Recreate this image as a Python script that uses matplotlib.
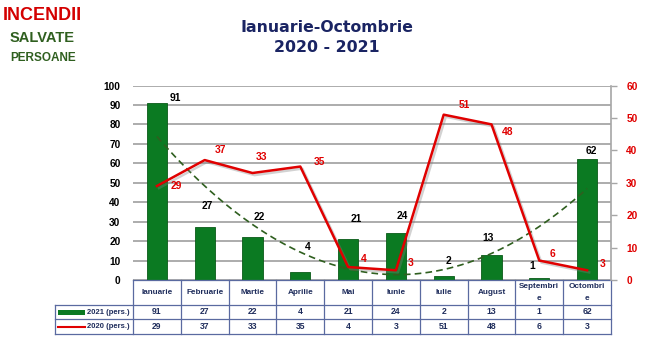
import numpy as np
import matplotlib
matplotlib.use("Agg")
import matplotlib.pyplot as plt
import matplotlib.patheffects as pe
from matplotlib.patches import Rectangle

plt.rcParams['font.family'] = ['Liberation Sans', 'DejaVu Sans']

months = ["Ianuarie", "Februarie", "Martie", "Aprilie", "Mai", "Iunie",
          "Iulie", "August", "Septembri\ne", "Octombri\ne"]
vals_2021 = [91, 27, 22, 4, 21, 24, 2, 13, 1, 62]
vals_2020 = [29, 37, 33, 35, 4, 3, 51, 48, 6, 3]
left_ticks = [0, 10, 20, 30, 40, 50, 60, 70, 80, 90, 100]
right_ticks = [0, 10, 20, 30, 40, 50, 60]
series_names = ["2021 (pers.)", "2020 (pers.)"]

# label offsets in pixels (style only)
bar_off = [(18, 5), (3, 21), (7, 20), (7, 25), (8, 20), (6, 17), (5, 15), (-3, 17), (-7, 12), (4, 8)]
line_off = [(19, 0), (16, 10), (9, 16), (19, 5), (16, 8), (15, 7), (21, 10), (16, -8), (13, 7), (16, 6)]

GREEN = '#0b7a22'
RED = '#e00000'
NAVY = '#1a2463'
TBL = '#5a6aa0'
TXT = '#1f2d5c'

fig = plt.figure(figsize=(6.54, 3.6), dpi=100)
ax = fig.add_axes([133/654, 80/360, 478/654, 194.5/360])
ax2 = ax.twinx()

x = np.arange(len(months))
ax.bar(x, vals_2021, width=0.42, color=GREEN, edgecolor='#0a5a18', linewidth=0.6, zorder=3)
ax.set_xlim(-0.5, len(months) - 0.5)
ax.set_ylim(0, 100)
ax.set_yticks(left_ticks)
ax.yaxis.grid(True, color='#a6a6a6', linewidth=1.3, zorder=0)
ax.set_axisbelow(True)
ax.set_xticks([])
for s in ax.spines.values():
    s.set_visible(False)
ax.tick_params(axis='y', length=0, pad=9, labelsize=7.3)
for lab in ax.get_yticklabels():
    lab.set_fontweight('bold')

# polynomial (order 2) trendline of 2021 series
coef = np.polyfit(x, vals_2021, 2)
xt = np.linspace(0, len(months) - 1, 200)
ax.plot(xt, np.polyval(coef, xt), color='#2f5f1f', linestyle=(0, (4, 2.5)), linewidth=1.2, zorder=4)

for i, v in enumerate(vals_2021):
    ax.annotate(str(v), (x[i], v), xytext=bar_off[i], textcoords='offset pixels',
                ha='center', va='center', fontsize=7.4, fontweight='bold', color='black', zorder=6)

# 2020 line on right axis
ax2.plot(x, vals_2020, color=RED, linewidth=1.8, zorder=5,
         path_effects=[pe.SimpleLineShadow(offset=(1.5, -1.5), shadow_color='gray', alpha=0.35), pe.Normal()])
ax2.set_ylim(0, 60)
ax2.set_yticks(right_ticks)
for s in ['top', 'left', 'bottom']:
    ax2.spines[s].set_visible(False)
ax2.spines['right'].set_color('#a6a6a6')
ax2.spines['right'].set_linewidth(1.2)
ax2.tick_params(axis='y', length=4, width=1, color='#a6a6a6', pad=7, labelsize=7.3, labelcolor=RED)
for lab in ax2.get_yticklabels():
    lab.set_fontweight('bold')
for i, v in enumerate(vals_2020):
    ax2.annotate(str(v), (x[i], v), xytext=line_off[i], textcoords='offset pixels',
                 ha='center', va='center', fontsize=7.4, fontweight='bold', color=RED, zorder=6)

# data table
n = len(months)
tr = ax.transAxes
y_h = -25/194.5
y_r1 = -39/194.5
y_r2 = -54/194.5
x_l = -78/478
kw = dict(transform=tr, clip_on=False, color=TBL, linewidth=0.9, zorder=10)
ax.plot([0, 1], [0, 0], **kw)
for yy in (y_h, y_r1, y_r2):
    ax.plot([x_l, 1], [yy, yy], **kw)
for i in range(n + 1):
    ax.plot([i/n, i/n], [0, y_r2], **kw)
ax.plot([x_l, x_l], [y_h, y_r2], **kw)

for i in range(n):
    xc = (i + 0.5)/n
    ax.text(xc, y_h/2, months[i], transform=tr, ha='center', va='center', fontsize=5.9,
            fontweight='bold', color=TXT, linespacing=1.9)
    ax.text(xc, (y_h + y_r1)/2, str(vals_2021[i]), transform=tr, ha='center', va='center',
            fontsize=6.2, fontweight='bold', color=TXT)
    ax.text(xc, (y_r1 + y_r2)/2, str(vals_2020[i]), transform=tr, ha='center', va='center',
            fontsize=6.2, fontweight='bold', color=TXT)

ax.text(-3/478, (y_h + y_r1)/2, series_names[0], transform=tr, ha='right', va='center',
        fontsize=5.5, fontweight='bold', color=TXT)
ax.text(-3/478, (y_r1 + y_r2)/2, series_names[1], transform=tr, ha='right', va='center',
        fontsize=5.5, fontweight='bold', color=TXT)
ax.add_patch(Rectangle((-75/478, (y_h + y_r1)/2 - 2.5/194.5), 27/478, 5/194.5, transform=tr,
                       clip_on=False, facecolor=GREEN, edgecolor='none', zorder=10))
ax.plot([-75/478, -48/478], [(y_r1 + y_r2)/2]*2, transform=tr, clip_on=False, color=RED,
        linewidth=1.5, zorder=10)

# titles
fig.text(327/654, 1 - 28/360, "Ianuarie-Octombrie", ha='center', va='center', fontsize=11.3,
         fontweight='bold', color=NAVY, family='DejaVu Sans')
fig.text(327/654, 1 - 47/360, "2020 - 2021", ha='center', va='center', fontsize=11.3,
         fontweight='bold', color=NAVY, family='DejaVu Sans')
fig.text(42/654, 1 - 15/360, "INCENDII", ha='center', va='center', fontsize=13,
         fontweight='bold', color='#d40000')
fig.text(42/654, 1 - 38/360, "SALVATE", ha='center', va='center', fontsize=10.5,
         fontweight='bold', color='#2f5f1f')
fig.text(43/654, 1 - 58/360, "PERSOANE", ha='center', va='center', fontsize=8.5,
         fontweight='bold', color='#2f5f1f')

fig.savefig("out.png", dpi=100)
